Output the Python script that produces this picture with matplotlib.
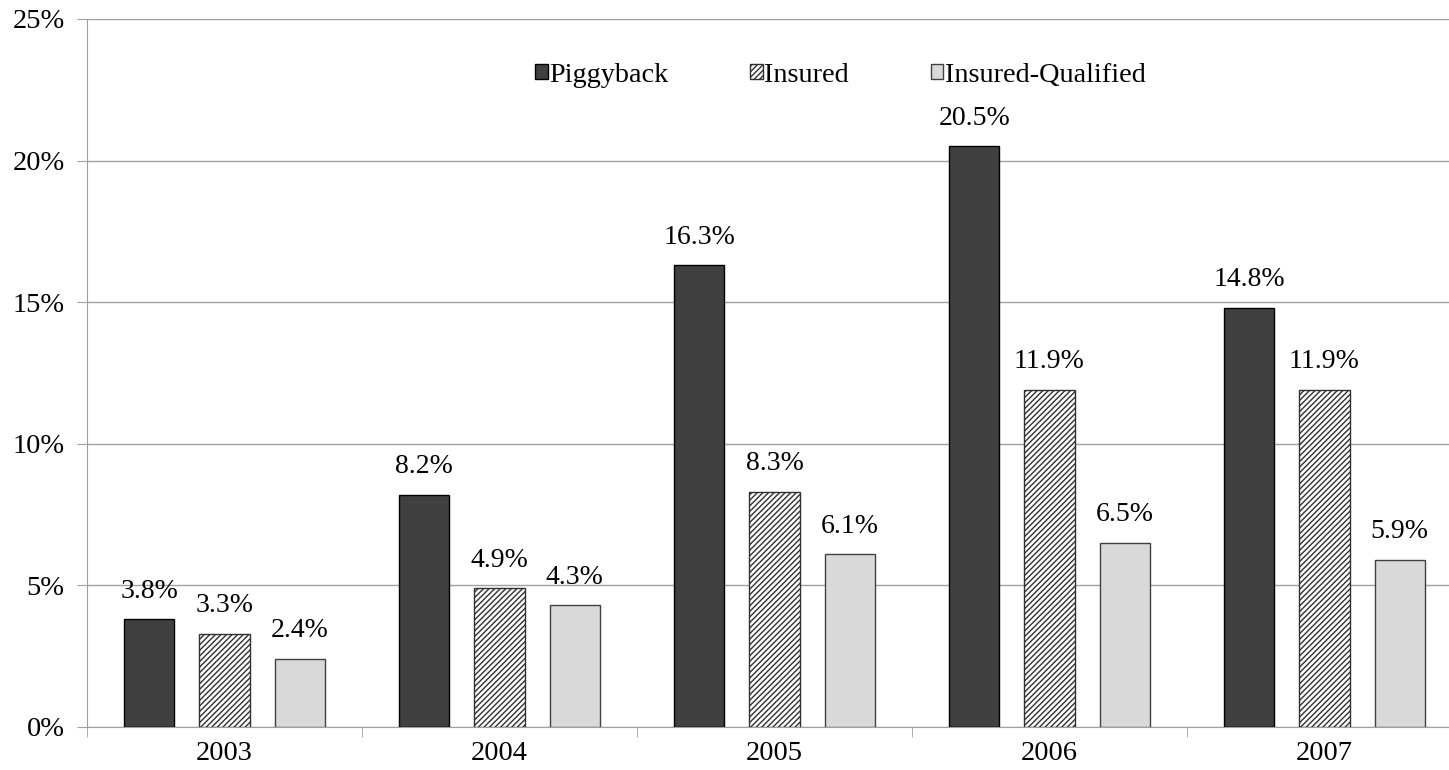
import numpy as np
import matplotlib
matplotlib.use("Agg")
import matplotlib.pyplot as plt
from matplotlib.ticker import FuncFormatter

plt.rcParams['font.family'] = ['Liberation Serif', 'DejaVu Serif']
plt.rcParams['hatch.linewidth'] = 1.0

years = ['2003', '2004', '2005', '2006', '2007']
piggyback = [3.8, 8.2, 16.3, 20.5, 14.8]
insured = [3.3, 4.9, 8.3, 11.9, 11.9]
insured_qualified = [2.4, 4.3, 6.1, 6.5, 5.9]

series = [
    ('Piggyback', piggyback, dict(color='#404040', edgecolor='black')),
    ('Insured', insured, dict(color='white', edgecolor='#303030', hatch='//////')),
    ('Insured-Qualified', insured_qualified, dict(color='#d9d9d9', edgecolor='#404040')),
]

fig = plt.figure(figsize=(14.49, 7.70), dpi=100)
ax = fig.add_axes([87 / 1449, 43 / 770, 1375 / 1449, 708 / 770])

x = np.arange(len(years))
width = 0.182
step = 0.273
for i, (name, vals, style) in enumerate(series):
    pos = x + (i - 1) * step
    ax.bar(pos, vals, width, label=name, linewidth=1.0, zorder=3, **style)
    for px, v in zip(pos, vals):
        ax.text(px, v + 0.55, f'{v:.1f}%', ha='center', va='bottom', fontsize=20)

ax.set_ylim(0, 25)
ax.set_xlim(-0.5, len(years) - 0.5)
ax.set_yticks(np.arange(0, 26, 5))
ax.yaxis.set_major_formatter(FuncFormatter(lambda v, _: f'{v:.0f}%'))
ax.grid(axis='y', color='#a0a0a0', linewidth=1.0, zorder=0)

# year labels centred, tick marks between the groups
ax.set_xticks(x)
ax.set_xticklabels(years)
ax.set_xticks(np.arange(-0.5, len(years)), minor=True)
ax.tick_params(axis='x', which='major', length=0, pad=10, labelsize=20.5)
ax.tick_params(axis='x', which='minor', length=7, color='#a0a0a0')
ax.tick_params(axis='y', length=7, color='#a0a0a0', labelsize=20.5, pad=9)

for side in ['top', 'right']:
    ax.spines[side].set_visible(False)
for side in ['left', 'bottom']:
    ax.spines[side].set_color('#a0a0a0')

fig.legend(*ax.get_legend_handles_labels(), loc='center left',
           bbox_to_anchor=(535 / 1449, 1 - 75 / 770), bbox_transform=fig.transFigure,
           ncol=3, frameon=False, fontsize=20.3, borderpad=0, borderaxespad=0,
           handlelength=0.45, handleheight=0.45, handletextpad=0.05,
           columnspacing=2.9)

fig.savefig('out.png', dpi=100)
